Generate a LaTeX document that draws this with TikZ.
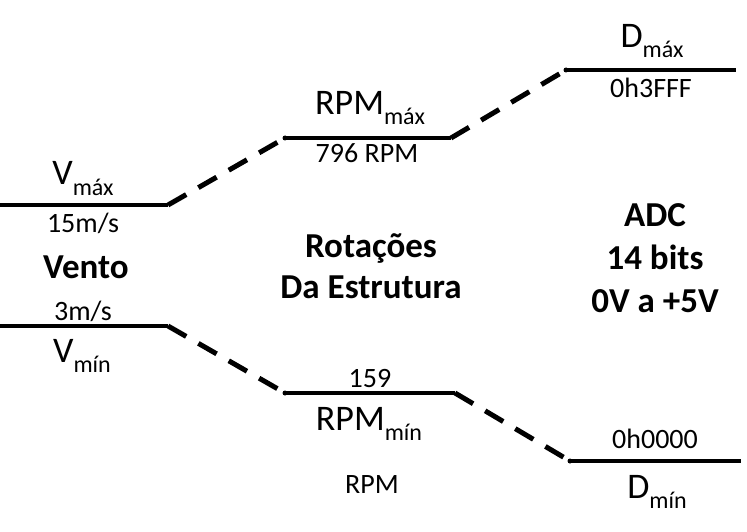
\documentclass[tikz,border=0pt]{standalone}
\usepackage{fontspec}
\setmainfont{Carlito}
\newcommand{\lbl}[2]{#1\raisebox{-10pt}{\fontsize{24}{24}\selectfont #2}}
\begin{document}
\begin{tikzpicture}[x=1pt,y=-1pt,
  solidline/.style={line width=3.2pt},
  dashline/.style={line width=5pt,dash pattern=on 21pt off 14pt},
  enddot/.style={circle,fill=black,inner sep=0pt,minimum size=5pt},
  big/.style={anchor=base,inner sep=0pt,font=\fontsize{36}{36}\selectfont},
  small/.style={anchor=base,inner sep=0pt,font=\fontsize{28}{28}\selectfont},
  bold/.style={anchor=base,inner sep=0pt,align=center,font=\fontsize{35}{41}\selectfont\bfseries}]
\useasboundingbox (0,0) rectangle (747,532);
\fill[white] (0,0) rectangle (747,532);
% line end points
\coordinate (vmaxL) at (0,205);
\coordinate (vmaxR) at (168,205);
\coordinate (rmaxL) at (285,138);
\coordinate (rmaxR) at (451,138);
\coordinate (dmaxL) at (566,70);
\coordinate (dmaxR) at (736,70);
\coordinate (vminL) at (0,326);
\coordinate (vminR) at (168,326);
\coordinate (rminL) at (285,393);
\coordinate (rminR) at (455,393);
\coordinate (dminL) at (570,461);
\coordinate (dminR) at (741,461);
% levels
\draw[solidline] (vmaxL) -- (vmaxR);
\draw[solidline] (rmaxL) -- (rmaxR);
\draw[solidline] (dmaxL) -- (dmaxR);
\draw[solidline] (vminL) -- (vminR);
\draw[solidline] (rminL) -- (rminR);
\draw[solidline] (dminL) -- (dminR);
% dashed links
\draw[dashline] (vmaxR) -- (rmaxL);
\draw[dashline] (rmaxR) -- (dmaxL);
\draw[dashline] (vminR) -- (rminL);
\draw[dashline] (rminR) -- (dminL);
% dots
\node[enddot] (d1) at (rmaxL) {};
\node[enddot] (d2) at (dmaxL) {};
\node[enddot] (d3) at (rminL) {};
\node[enddot] (d4) at (dminL) {};
% texts
\node[big] (vmax) at (83,185) {\lbl{V}{máx}};
\node[small] (v15) at (83,232) {15m/s};
\node[bold] (vento) at (86,278) {Vento};
\node[small] (v3) at (83,320) {3m/s};
\node[big] (vmin) at (82,362) {\lbl{V}{mín}};
\node[big] (rmax) at (370,115) {\lbl{RPM}{máx}};
\node[small] (r796) at (367,163) {796 RPM};
\node[bold] (rot) at (371,298) {Rotações\\Da Estrutura};
\node[small] (r159) at (370,387) {159};
\node[big] (rmin) at (369,430) {\lbl{RPM}{mín}};
\node[small] (rpm) at (372,493) {RPM};
\node[big] (dmax) at (652,48) {\lbl{D}{máx}};
\node[small] (d3fff) at (651,98) {0h3FFF};
\node[bold,font=\fontsize{35}{43}\selectfont\bfseries] (adc) at (655,312) {ADC\\14 bits\\0V a +5V};
\node[small] (d0000) at (655,448) {0h0000};
\node[big] (dmin) at (657,498) {\lbl{D}{mín}};
\end{tikzpicture}
\end{document}
